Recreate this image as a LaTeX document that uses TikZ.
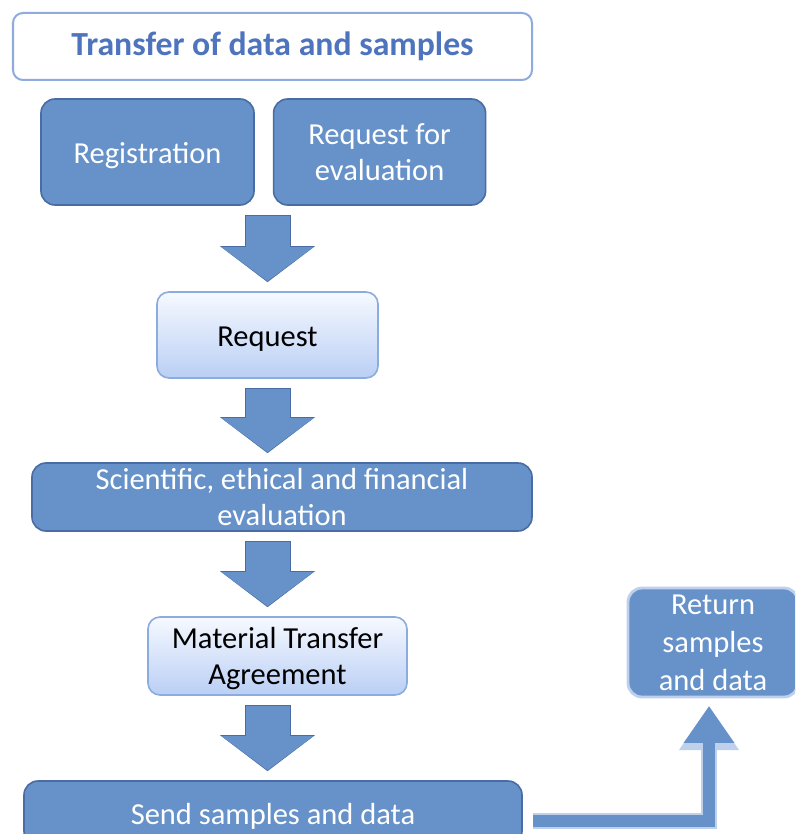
\documentclass[tikz,border=0pt]{standalone}
\usepackage{fontspec}
\setmainfont{Carlito}
\usepackage{tikz}
\usetikzlibrary{arrows.meta, positioning, calc}
\definecolor{boxfill}{RGB}{102,146,201}
\definecolor{boxedge}{RGB}{72,108,163}
\definecolor{titleblue}{RGB}{78,116,189}
\definecolor{titleedge}{RGB}{143,170,220}
\definecolor{lighttop}{RGB}{246,249,255}
\definecolor{lightbot}{RGB}{186,207,245}
\definecolor{lightedge}{RGB}{140,172,222}
\definecolor{glow}{RGB}{190,208,236}

\begin{document}
\begin{tikzpicture}[
  font=\fontsize{21.7}{25.5}\selectfont,
  titlebox/.style={draw=titleedge, line width=0.05cm, fill=white, rounded corners=0.25cm,
    text=titleblue, font=\fontsize{24}{28}\selectfont\bfseries, inner sep=0pt},
  darkbox/.style={draw=boxedge, line width=0.04cm, fill=boxfill, rounded corners=0.35cm,
    text=white, align=center, inner sep=0pt},
  lightbox/.style={draw=lightedge, line width=0.04cm, top color=lighttop, bottom color=lightbot,
    rounded corners=0.3cm, align=center, inner sep=0pt},
  oneline/.style={text height=20pt},
  flow/.style={preaction={draw=boxedge, line width=1.15cm, -{Triangle[width=2.325cm,length=0.9cm]},
      shorten <=0.225cm, shorten >=0.225cm},
    draw=boxfill, line width=1.1cm, -{Triangle[width=2.25cm,length=0.85cm]},
    shorten <=0.25cm, shorten >=0.25cm},
  retflow/.style={preaction={draw=glow, line width=0.42cm, -{Triangle[width=1.42cm,length=1.1cm]}},
    draw=boxfill, line width=0.3cm, -{Triangle[width=1.2cm,length=0.92cm]},
    shorten <=0.06cm, shorten >=0.09cm}
]
  \fill[white] (0,0) rectangle (19.875,-20.85);
  \useasboundingbox (0,0) rectangle (19.875,-20.85);
  \clip (0,0) rectangle (19.875,-20.85);

  \node[titlebox, minimum width=12.975cm, minimum height=1.675cm] (title) at (6.8125,-1.1625)
    {Transfer of data and samples};
  \node[darkbox, oneline, minimum width=5.325cm, minimum height=2.65cm] (reg) at (3.6875,-3.8)
    {Registration};
  \node[darkbox, text depth=-3pt, minimum width=5.3cm, minimum height=2.65cm, right=0.45cm of reg]
    (evalreq) {Request for\\evaluation};
  \node[lightbox, oneline, minimum width=5.525cm, minimum height=2.15cm] (req) at (6.6875,-8.375)
    {Request};
  \node[darkbox, text depth=-4pt, minimum width=12.5cm, minimum height=1.7cm] (sci) at (7.05,-12.425)
    {Scientific, ethical and financial\\evaluation};
  \node[lightbox, text depth=-3pt, minimum width=6.475cm, minimum height=1.95cm] (mta) at (6.9375,-16.4)
    {Material Transfer\\Agreement};
  \node[darkbox, oneline, minimum width=12.45cm, minimum height=1.6cm] (send) at (6.825,-20.325)
    {Send samples and data};
  \node[darkbox, draw=glow, line width=0.07cm, text depth=-4pt, minimum width=4.25cm,
    minimum height=2.725cm, font=\fontsize{21.7}{27}\selectfont] (ret) at (17.825,-16.0625)
    {Return\\samples\\and data};

  % block arrows down the middle column
  \draw[flow] (reg.south -| req.north) -- (req.north);
  \draw[flow] (req.south) -- (req.south |- sci.north);
  \draw[flow] (req.south |- sci.south) -- (req.south |- mta.north);
  \draw[flow] (req.south |- mta.south) -- (req.south |- send.north);

  % return path
  \draw[retflow] ([shift={(0.2,-0.2)}]send.east) -| ([shift={(-0.1,-0.1)}]ret.south);
\end{tikzpicture}
\end{document}
